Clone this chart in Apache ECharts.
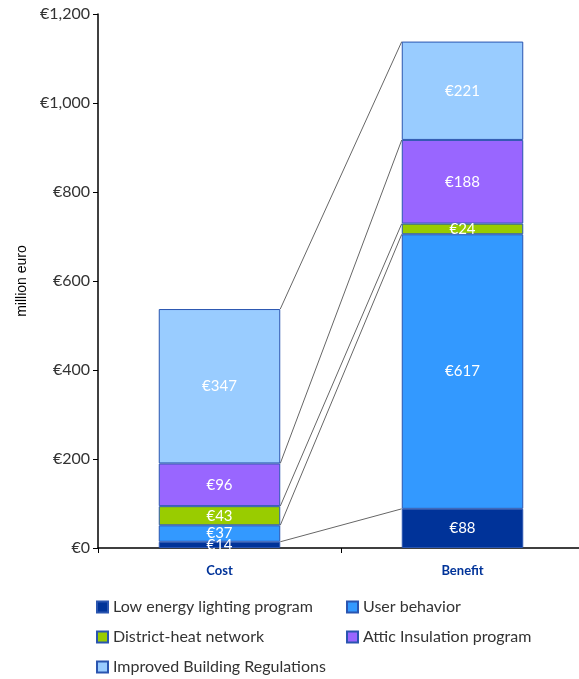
<!DOCTYPE html>
<html>
<head>
<meta charset="utf-8">
<script src="https://cdn.jsdelivr.net/npm/echarts@6/dist/echarts.min.js"></script>
<style>
  html, body { margin: 0; padding: 0; background: #fff; overflow: hidden; }
  #chart { width: 584px; height: 679px; }
</style>
</head>
<body>
<div id="chart"></div>
<script>
// categories on the x axis
var categories = ['Cost', 'Benefit'];

// series names, bottom to top of each stack
var seriesNames = [
  'Low energy lighting program',
  'User behavior',
  'District-heat network',
  'Attic Insulation program',
  'Improved Building Regulations'
];

// values per series: [Cost, Benefit] in million euro
var lowEnergy = [14, 88];
var userBehavior = [37, 617];
var districtHeat = [43, 24];
var atticInsulation = [96, 188];
var buildingRegs = [347, 221];

var yTicks = [0, 200, 400, 600, 800, 1000, 1200];

var colors = ['#003399', '#3399ff', '#99cc00', '#9966ff', '#99ccff'];

var allValues = [lowEnergy, userBehavior, districtHeat, atticInsulation, buildingRegs];

var chart = echarts.init(document.getElementById('chart'));

// stacked bars
var series = seriesNames.map(function (name, i) {
  return {
    name: name,
    type: 'bar',
    stack: 'total',
    barWidth: '50%',
    data: allValues[i],
    itemStyle: {
      color: colors[i],
      borderColor: '#2a55b0',
      borderWidth: 1
    },
    label: {
      show: true,
      position: 'inside',
      color: '#fff',
      fontSize: 15,
      fontFamily: 'Lato',
      formatter: function (p) { return '€' + p.value; }
    }
  };
});

// connector lines between the top of each stacked segment
var cumulative = [];
var sumCost = 0, sumBen = 0;
for (var i = 0; i < allValues.length; i++) {
  sumCost += allValues[i][0];
  sumBen += allValues[i][1];
  cumulative.push([0, sumCost, sumBen]);
}

series.push({
  type: 'custom',
  silent: true,
  encode: { x: 0, y: 1 },
  data: cumulative,
  z: 1,
  renderItem: function (params, api) {
    var p1 = api.coord([0, api.value(1)]);
    var p2 = api.coord([1, api.value(2)]);
    var half = api.size([1, 0])[0] * 0.25;
    return {
      type: 'line',
      shape: { x1: p1[0] + half, y1: p1[1], x2: p2[0] - half, y2: p2[1] },
      style: { stroke: '#666', lineWidth: 1 }
    };
  }
});

var legendText = { color: '#333', fontSize: 16, fontFamily: 'Lato' };

var option = {
  animation: false,
  grid: { left: 98, right: 0, top: 14, bottom: 131, containLabel: false },
  xAxis: {
    type: 'category',
    data: categories,
    axisLine: { lineStyle: { color: '#000', width: 1.5 } },
    axisTick: { show: true, length: 5, lineStyle: { color: '#000' } },
    axisLabel: {
      color: '#003399',
      fontWeight: 'bold',
      fontSize: 13,
      fontFamily: 'Lato',
      margin: 16
    }
  },
  yAxis: {
    type: 'value',
    min: 0,
    max: 1200,
    interval: 200,
    name: 'million euro',
    nameLocation: 'middle',
    nameGap: 69,
    nameTextStyle: { color: '#000', fontSize: 14, fontFamily: 'Liberation Sans' },
    splitLine: { show: false },
    axisLine: { show: true, lineStyle: { color: '#000', width: 1.5 } },
    axisTick: { show: true, length: 5, lineStyle: { color: '#000' } },
    axisLabel: {
      color: '#333',
      fontSize: 16,
      fontFamily: 'Lato',
      margin: 8,
      formatter: function (v) {
        return yTicks.indexOf(v) >= 0 ? '€' + v.toLocaleString('en-US') : '';
      }
    }
  },
  legend: [
    {
      left: 96,
      top: 599,
      padding: 0,
      orient: 'vertical',
      itemGap: 14,
      itemWidth: 11,
      itemHeight: 11,
      icon: 'rect',
      data: [seriesNames[0], seriesNames[2], seriesNames[4]],
      textStyle: legendText
    },
    {
      left: 346,
      top: 599,
      padding: 0,
      orient: 'vertical',
      itemGap: 14,
      itemWidth: 11,
      itemHeight: 11,
      icon: 'rect',
      data: [seriesNames[1], seriesNames[3]],
      textStyle: legendText
    }
  ],
  series: series
};

chart.setOption(option);
</script>
</body>
</html>
